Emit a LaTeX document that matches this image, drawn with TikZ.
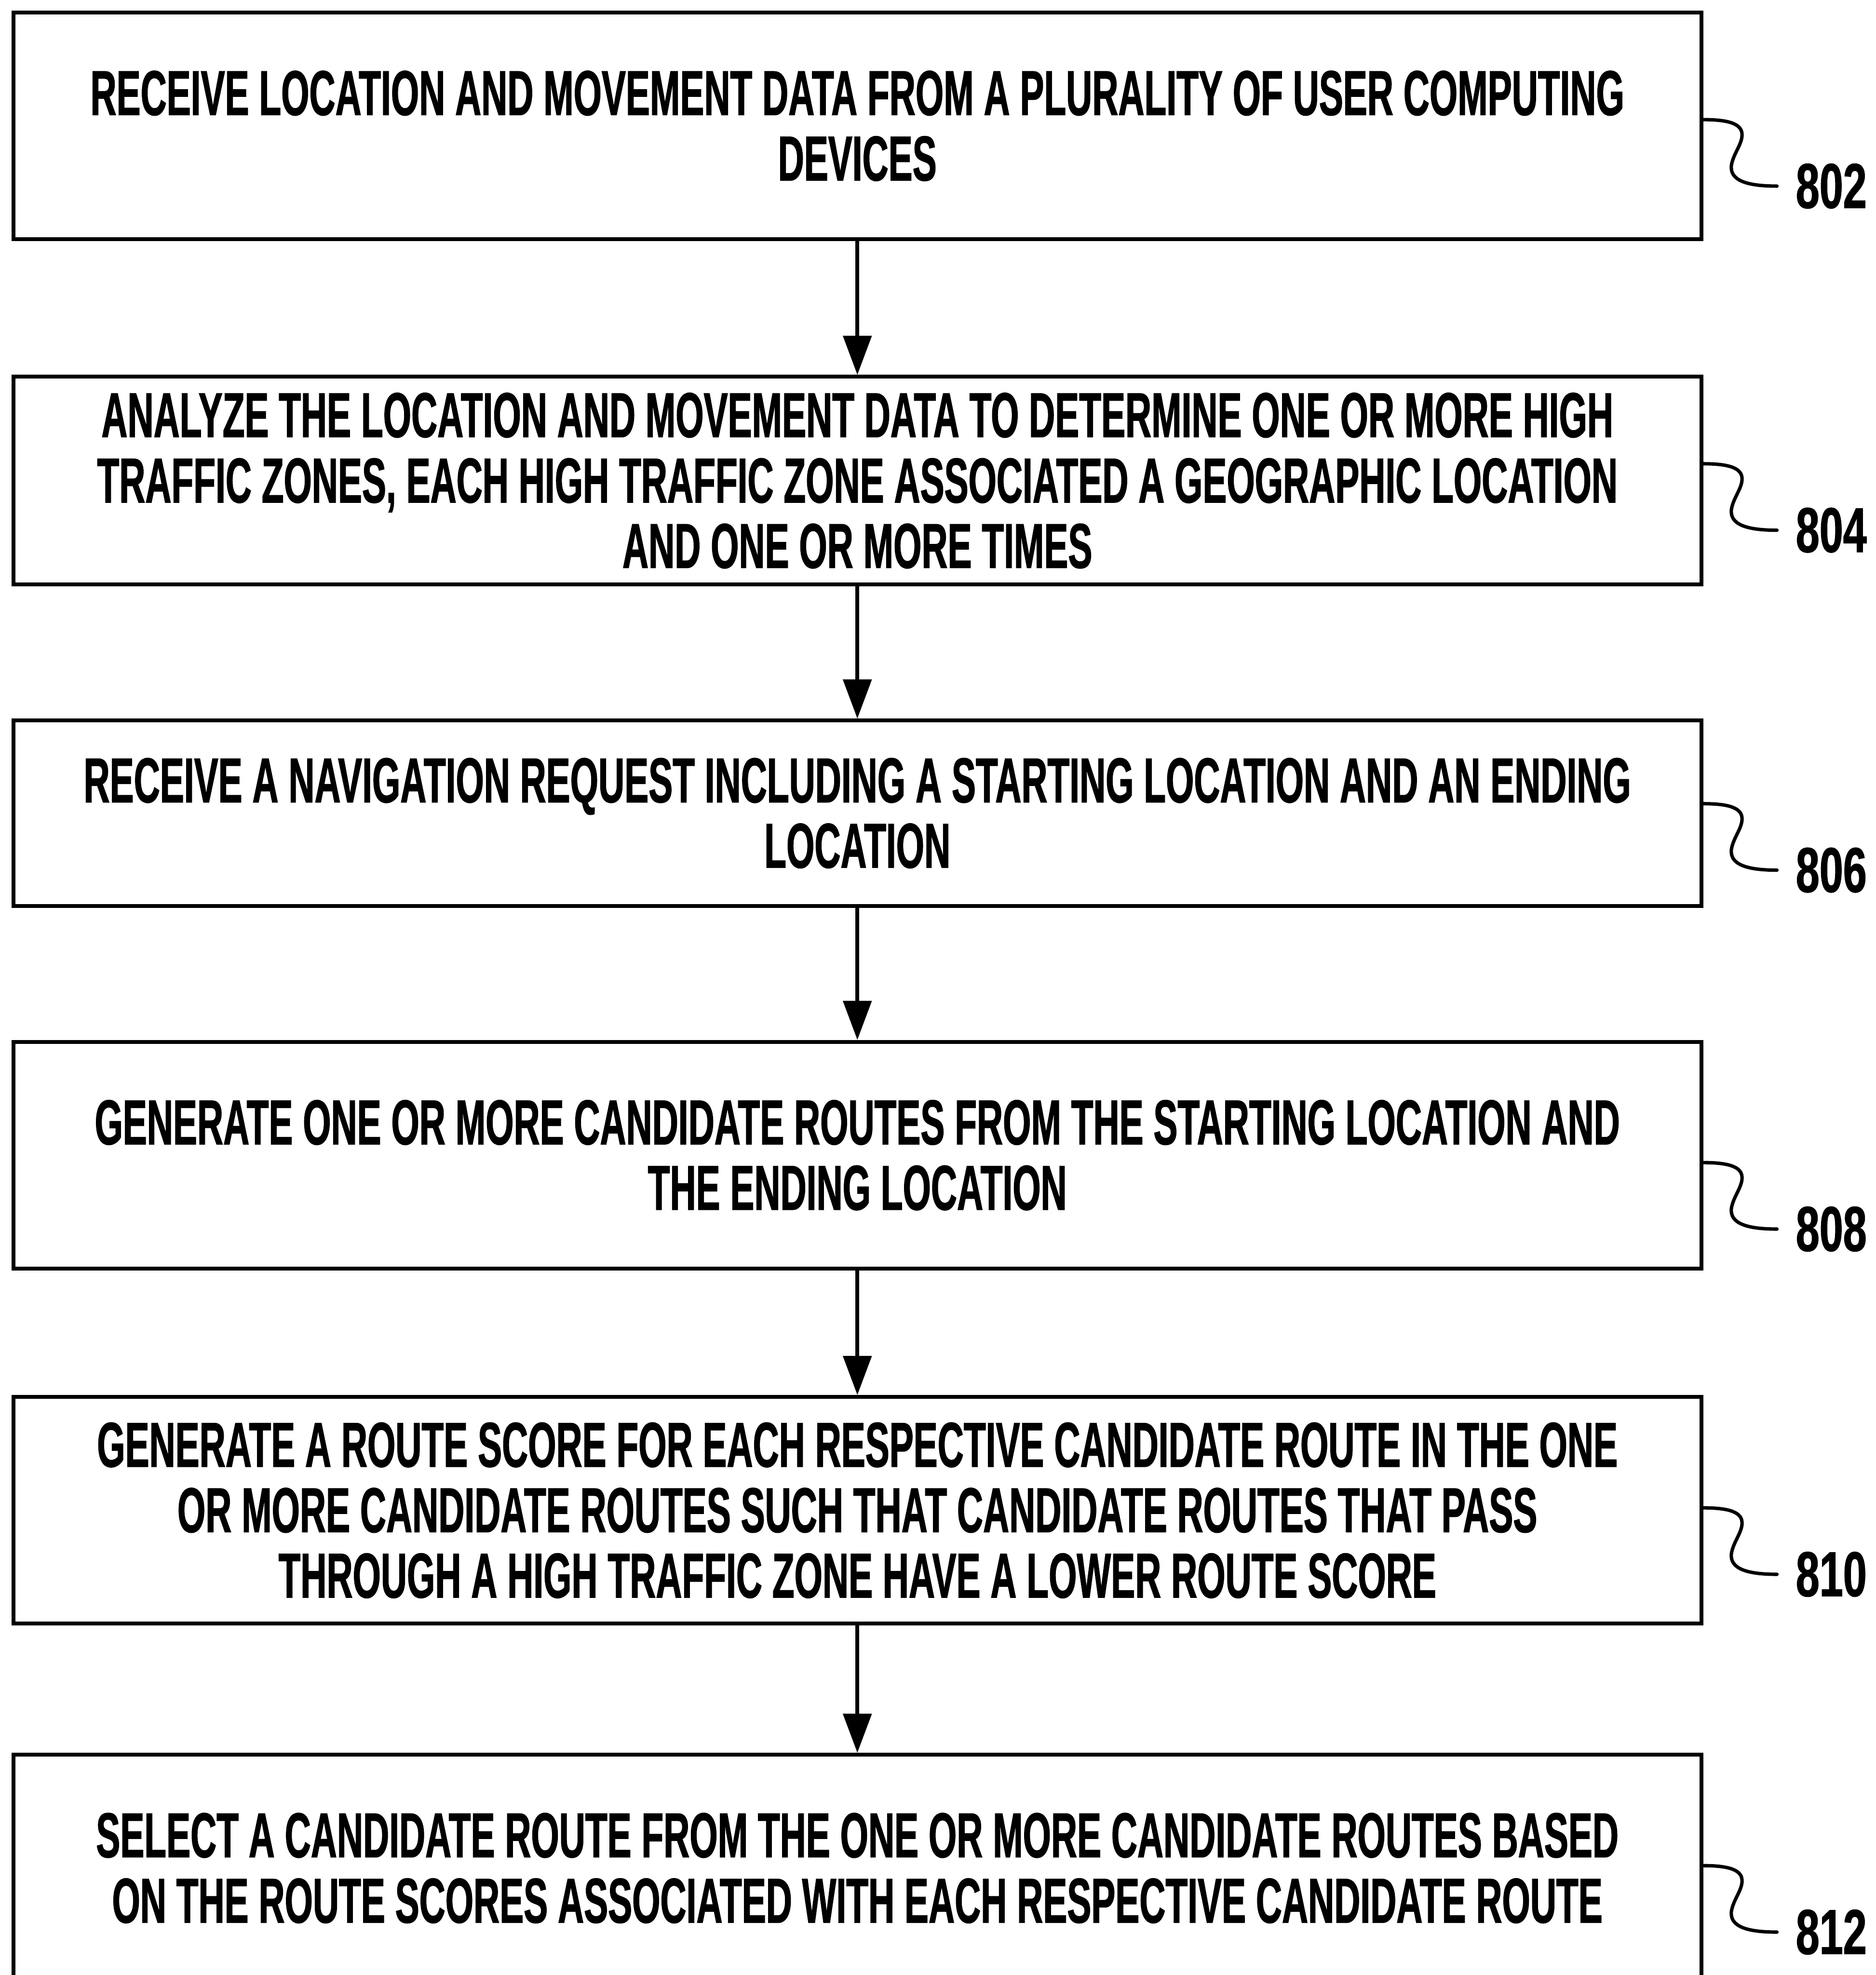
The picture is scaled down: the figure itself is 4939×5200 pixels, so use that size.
\documentclass[tikz,border=0pt]{standalone}
\usepackage{fontspec}
\setmainfont{Liberation Sans}[FakeStretch=0.57, FakeBold=1]
\newfontfamily\numfont{Liberation Sans}[FakeStretch=0.67, FakeBold=1]
\usepackage{tikz}
\usetikzlibrary{arrows.meta, calc}

\begin{document}
\begin{tikzpicture}[x=0.1mm, y=-0.1mm,
    stepbox/.style={draw, line width=1mm, minimum width=444.5mm, minimum height=59.7mm, inner sep=0pt, align=center, font=\fontsize{47.5}{49}\selectfont\bfseries},
    flow/.style={line width=1mm, -{Triangle[length=10.3mm, width=7.4mm]}},
    refnum/.style={anchor=west, inner xsep=4.9mm, inner ysep=0pt, font=\fontsize{47.5}{49}\numfont\bfseries},
    lead/.style={line width=0.9mm, line cap=round}]
    \useasboundingbox (0,0) rectangle (4939,5200);

    % Steps
    \node[stepbox] (s802) at (2257.5, 331.5) {RECEIVE LOCATION AND MOVEMENT DATA FROM A PLURALITY OF USER COMPUTING\\DEVICES};
    \node[stepbox, minimum height=54.7mm] (s804) at (2257.5, 1265.5) {ANALYZE THE LOCATION AND MOVEMENT DATA TO DETERMINE ONE OR MORE HIGH\\TRAFFIC ZONES, EACH HIGH TRAFFIC ZONE ASSOCIATED A GEOGRAPHIC LOCATION\\AND ONE OR MORE TIMES};
    \node[stepbox, minimum height=48.8mm] (s806) at (2257.5, 2141) {RECEIVE A NAVIGATION REQUEST INCLUDING A STARTING LOCATION AND AN ENDING\\LOCATION};
    \node[stepbox] (s808) at (2257.5, 3041.5) {GENERATE ONE OR MORE CANDIDATE ROUTES FROM THE STARTING LOCATION AND\\THE ENDING LOCATION};
    \node[stepbox] (s810) at (2257.5, 3976.5) {GENERATE A ROUTE SCORE FOR EACH RESPECTIVE CANDIDATE ROUTE IN THE ONE\\OR MORE CANDIDATE ROUTES SUCH THAT CANDIDATE ROUTES THAT PASS\\THROUGH A HIGH TRAFFIC ZONE HAVE A LOWER ROUTE SCORE};
    \node[stepbox] (s812) at (2257.5, 4918.5) {SELECT A CANDIDATE ROUTE FROM THE ONE OR MORE CANDIDATE ROUTES BASED\\ON THE ROUTE SCORES ASSOCIATED WITH EACH RESPECTIVE CANDIDATE ROUTE};

    % Flow
    \foreach \a/\b in {s802/s804, s804/s806, s806/s808, s808/s810, s810/s812}
        \draw[flow] (\a) -- (\b);

    % Reference numerals
    \foreach \id/\y in {802/315, 804/1221, 806/2116, 808/3061, 810/3970, 812/4912} {
        \node[refnum] (r\id) at (4679, \y+175) {\id};
        \draw[lead] (s\id.east |- 0,\y) .. controls +(70,0) and +(0,-28) .. ++(102,40)
            .. controls +(0,25) and +(5,-30) .. ++(-28,80)
            .. controls +(-5,40) and +(-80,0) .. (r\id.west);
    }
\end{tikzpicture}
\end{document}
